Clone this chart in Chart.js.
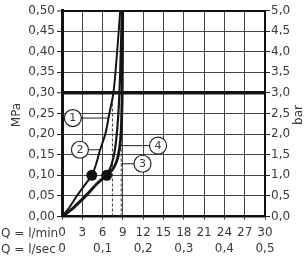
<!DOCTYPE html>
<html>
<head>
<meta charset="utf-8">
<script src="https://cdn.jsdelivr.net/npm/chart.js@4/dist/chart.umd.min.js"></script>
<style>
html,body{margin:0;padding:0;background:#fff;}
canvas{display:block;}
</style>
</head>
<body>
<canvas id="c" width="307" height="259"></canvas>
<script>
// ---- data (flow Q in l/min, pressure p in MPa) ----
const xTicksLmin = [0, 3, 6, 9, 12, 15, 18, 21, 24, 27, 30];
const xTicksLsec = ['0', '', '0,1', '', '0,2', '', '0,3', '', '0,4', '', '0,5'];
const curve1Q = [0, 1.0, 2.2, 3.3, 4.4, 5.0, 5.6, 6.4, 7.0, 7.6, 8.15, 8.6];
const curve1P = [0, 0.02, 0.05, 0.075, 0.10, 0.125, 0.16, 0.20, 0.25, 0.30, 0.40, 0.50];
const curve2Q = [0, 1.6, 3.5, 5.2, 6.6];
const curve2P = [0, 0.02, 0.05, 0.08, 0.10];
const curve3Q = [6.6, 7.5, 8.1, 8.5, 8.75, 8.9, 8.97];
const curve3P = [0.10, 0.115, 0.135, 0.165, 0.21, 0.30, 0.50];
const curve4Q = [6.6, 7.3, 7.8, 8.15, 8.4, 8.6, 8.85];
const curve4P = [0.10, 0.125, 0.16, 0.21, 0.27, 0.35, 0.50];
const dotQ = [4.4, 6.6];
const dotP = [0.10, 0.10];
const dashQ = [7.45, 8.75];
const dashTopP = [0.28, 0.28];
const labelNames = ['1', '2', '3', '4'];
const labelQ = [1.6, 2.65, 11.9, 14.2];
const labelP = [0.239, 0.162, 0.128, 0.172];
const leaderEndQ = [6.9, 5.6, 8.8, 8.8];
const refPressure = 0.30;

const pts = (qs, ps) => qs.map((q, i) => ({x: q, y: ps[i]}));
const FONT = "'DejaVu Sans', sans-serif";
const TXT = '#3a3a3a';

const datasets = [];
// label circles (top)
datasets.push({
  data: pts(labelQ, labelP), showLine: false, order: 0,
  pointRadius: 8.5, pointHoverRadius: 8.5, pointBackgroundColor: '#fff',
  pointBorderColor: '#222', pointBorderWidth: 1.2
});
// black dots
datasets.push({
  data: pts(dotQ, dotP), showLine: false, order: 1,
  pointRadius: 5.5, pointBackgroundColor: '#111', pointBorderColor: '#111', pointBorderWidth: 0
});
// leader lines
labelQ.forEach((q, i) => {
  datasets.push({
    data: [{x: q, y: labelP[i]}, {x: leaderEndQ[i], y: labelP[i]}],
    showLine: true, borderColor: '#222', borderWidth: 1, pointRadius: 0, order: 5
  });
});
// curves
[[curve1Q, curve1P, 2], [curve2Q, curve2P, 3], [curve3Q, curve3P, 2.8], [curve4Q, curve4P, 2.2]].forEach(([q, p, w]) => {
  datasets.push({
    data: pts(q, p), showLine: true, borderColor: '#151515', borderWidth: w,
    pointRadius: 0, tension: 0.3, order: 3
  });
});
// dashed verticals
dashQ.forEach((q, i) => {
  datasets.push({
    data: [{x: q, y: 0}, {x: q, y: dashTopP[i]}], showLine: true,
    borderColor: '#333', borderWidth: 1, borderDash: [3, 2], pointRadius: 0, order: 6
  });
});

const fmt = (v, d) => v.toFixed(d).replace('.', ',');

const textPlugin = {
  id: 'texts',
  afterDatasetsDraw(chart) {
    const ctx = chart.ctx;
    const meta = chart.getDatasetMeta(0);
    ctx.save();
    ctx.fillStyle = TXT;
    ctx.font = '11px ' + FONT;
    ctx.textAlign = 'center';
    ctx.textBaseline = 'middle';
    meta.data.forEach((el, i) => ctx.fillText(labelNames[i], el.x, el.y + 0.5));
    ctx.restore();
  },
  afterDraw(chart) {
    const ctx = chart.ctx;
    ctx.save();
    ctx.fillStyle = TXT;
    ctx.font = '12px ' + FONT;
    ctx.textBaseline = 'middle';
    ctx.textAlign = 'left';
    ctx.fillText('Q = l/min', 1, 233.5);
    ctx.fillText('Q = l/sec', 1, 249.5);
    ctx.textAlign = 'center';
    ctx.save(); ctx.translate(17, 115); ctx.rotate(-Math.PI / 2); ctx.fillText('MPa', 0, 0); ctx.restore();
    ctx.save(); ctx.translate(299, 115); ctx.rotate(-Math.PI / 2); ctx.fillText('bar', 0, 0); ctx.restore();
    ctx.restore();
  }
};

new Chart(document.getElementById('c'), {
  type: 'scatter',
  data: {datasets},
  options: {
    responsive: false,
    animation: false,
    events: [],
    layout: {padding: {top: 10.5, left: 0, right: 0, bottom: 0}},
    plugins: {legend: {display: false}, tooltip: {enabled: false}},
    scales: {
      x: {
        type: 'linear', min: 0, max: 30,
        afterFit: s => { s.height = 42.5; },
        afterBuildTicks: s => { s.ticks = xTicksLmin.map(v => ({value: v})); },
        ticks: {
          autoSkip: false, maxRotation: 0, padding: 5, color: TXT,
          font: {family: FONT, size: 12, lineHeight: 1.33},
          callback: (v, i) => [String(xTicksLmin[i]), xTicksLsec[i]]
        },
        grid: {color: '#444', lineWidth: 1, tickLength: 3, tickColor: '#222'},
        border: {color: '#111', width: 2.5}
      },
      y: {
        type: 'linear', position: 'left', min: 0, max: 0.5,
        afterFit: s => { s.width = 62; },
        ticks: {stepSize: 0.05, padding: 2, color: TXT, font: {family: FONT, size: 12},
          callback: v => fmt(v, 2)},
        grid: {
          color: c => (Math.abs(c.tick.value - refPressure) < 1e-6 || Math.abs(c.tick.value - 0.5) < 1e-6) ? '#111' : '#444',
          lineWidth: c => Math.abs(c.tick.value - refPressure) < 1e-6 ? 3.5 : (Math.abs(c.tick.value - 0.5) < 1e-6 ? 2 : 1),
          tickLength: 5, tickColor: '#222', tickWidth: 1
        },
        border: {color: '#111', width: 3}
      },
      y2: {
        type: 'linear', position: 'right', min: 0, max: 5,
        afterFit: s => { s.width = 42; },
        ticks: {stepSize: 0.5, padding: 1, color: TXT, font: {family: FONT, size: 12},
          callback: v => fmt(v, 1)},
        grid: {drawOnChartArea: false, tickLength: 5, tickColor: '#222'},
        border: {color: '#111', width: 2}
      }
    }
  },
  plugins: [textPlugin]
});
</script>
</body>
</html>
